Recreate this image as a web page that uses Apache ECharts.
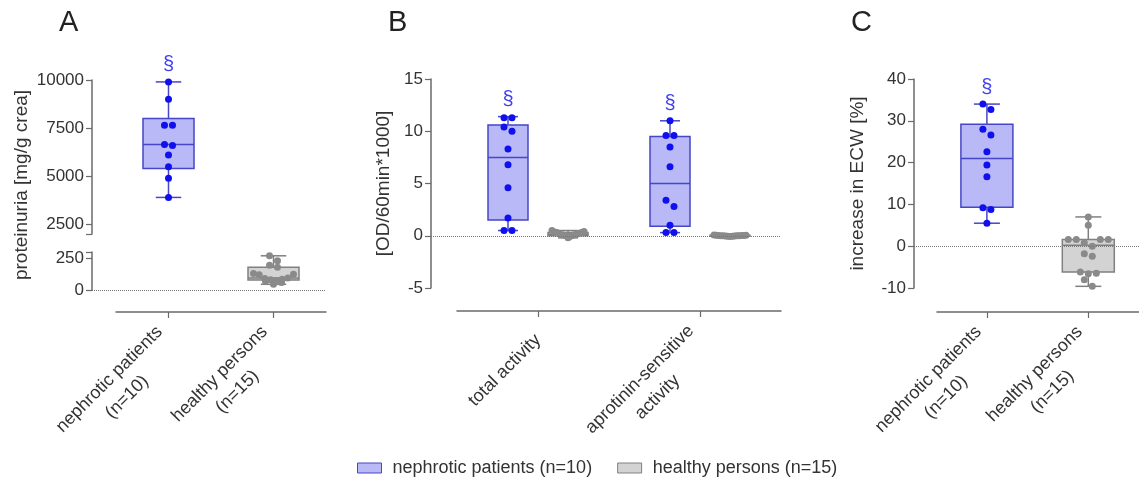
<!DOCTYPE html>
<html>
<head>
<meta charset="utf-8">
<script src="https://cdn.jsdelivr.net/npm/echarts@6/dist/echarts.min.js"></script>
<style>
  html, body { margin: 0; padding: 0; background: #fff; }
  #chart { width: 1139px; height: 486px; }
</style>
</head>
<body>
<div id="chart"></div>
<script>
// ---- data ----
var categoriesAC = ['nephrotic patients\n(n=10)', 'healthy persons\n(n=15)'];
var categoriesB = ['total activity', 'aprotinin-sensitive\nactivity'];
var legendNames = ['nephrotic patients (n=10)', 'healthy persons (n=15)'];
var sigMark = '§';

// box stats: [min, Q1, median, Q3, max]
var boxA_nephrotic = [3900, 5400, 6650, 8000, 9900];
var boxA_healthy = [45, 78, 94, 180, 270];
var ptsA_nephrotic = [9900, 9000, 7650, 7650, 6650, 6600, 6100, 5500, 4900, 3900];
var ptsA_healthy = [270, 230, 195, 180, 130, 125, 120, 95, 90, 85, 80, 75, 70, 60, 45];

var boxB_nephrotic = [[0.5, 1.5, 7.5, 10.6, 11.4], [0.3, 0.9, 5.0, 9.5, 11.0]];
var boxB_healthy = [[-0.2, 0.0, 0.15, 0.3, 0.5], [-0.1, -0.04, 0.0, 0.04, 0.1]];
var ptsB_nephrotic = [
  [11.3, 11.3, 10.4, 10.0, 8.3, 6.8, 4.6, 1.7, 0.5, 0.5],
  [11.0, 9.6, 9.6, 8.5, 6.6, 3.4, 2.8, 1.0, 0.3, 0.3]
];
var ptsB_healthy = [
  [0.5, 0.4, 0.35, 0.3, 0.3, 0.25, 0.2, 0.15, 0.1, 0.1, 0.05, 0, 0, -0.1, -0.2],
  [0.08, 0.05, 0.05, 0.03, 0.02, 0.02, 0, 0, 0, 0, -0.02, -0.03, -0.05, -0.05, -0.08]
];

var boxC_nephrotic = [5.5, 9.3, 21, 29.2, 34];
var boxC_healthy = [-9.6, -6.2, 0.2, 1.6, 7];
var ptsC_nephrotic = [34, 32.7, 28, 26.6, 22.6, 19.4, 16.6, 9.2, 8.8, 5.5];
var ptsC_healthy = [7, 5, 1.6, 1.6, 1.6, 1.6, 0.8, 0, -1.8, -2.4, -6.2, -6.5, -6.6, -8, -9.6];

var ticksA_upper = [2500, 5000, 7500, 10000];
var ticksA_lower = [0, 250];

// ---- styles ----
var FONT = 'Liberation Sans';
var BLUE = { fill: '#b9b9f7', stroke: '#4646c8', dot: '#1010ee', mark: '#4040f0' };
var GREY = { fill: '#d3d3d3', stroke: '#808080', dot: '#8a8a8a' };
var AXIS = '#6a6a6a';
var TEXT = '#333';

var chart = echarts.init(document.getElementById('chart'));

// hidden value x-axis lined up with the visible category axis
function bandRange(plotLeft, axisLeft, axisWidth, n) {
  var unit = axisWidth / n;
  var min = -0.5 - (axisLeft - plotLeft) / unit;
  return { min: min, max: min + (axisLeft + axisWidth - plotLeft) / unit };
}

function boxRenderer(o) {
  return function (params, api) {
    var x = api.value(0);
    var p = [1, 2, 3, 4, 5].map(function (d) { return api.coord([x, api.value(d)]); });
    var cx = p[0][0] + o.dx;
    var hw = o.width / 2, cw = o.width / 4;
    function ln(x1, y1, x2, y2) {
      return { type: 'line', shape: { x1: x1, y1: y1, x2: x2, y2: y2 }, style: { stroke: o.c.stroke, lineWidth: 1.5 } };
    }
    var ch = [
      ln(cx, p[4][1], cx, p[3][1]),
      ln(cx, p[1][1], cx, p[0][1]),
      ln(cx - cw, p[4][1], cx + cw, p[4][1]),
      ln(cx - cw, p[0][1], cx + cw, p[0][1]),
      { type: 'rect', shape: { x: cx - hw, y: p[3][1], width: o.width, height: p[1][1] - p[3][1] },
        style: { fill: o.c.fill, stroke: o.c.stroke, lineWidth: 1.5 } },
      ln(cx - hw, p[2][1], cx + hw, p[2][1])
    ];
    if (o.mark) {
      ch.push({ type: 'text', x: cx, y: p[4][1] - 17,
        style: { text: o.mark, fill: o.c.mark, font: '20px ' + FONT, align: 'center', verticalAlign: 'middle' } });
    }
    return { type: 'group', children: ch };
  };
}

function boxSeries(id, name, xi, yi, stats, o) {
  return {
    id: id, name: name, type: 'custom', xAxisIndex: xi, yAxisIndex: yi,
    renderItem: boxRenderer(o), encode: { x: 0, y: [1, 2, 3, 4, 5] },
    itemStyle: { color: o.c.fill, borderColor: o.c.stroke },
    data: stats.map(function (s, i) { return [o.cat != null ? o.cat : i].concat(s); }),
    z: 2
  };
}

var zeroLine = {
  silent: true, symbol: ['none', 'none'], label: { show: false },
  lineStyle: { type: 'dotted', color: '#777', width: 1 },
  data: [{ yAxis: 0 }]
};

function dotSeries(id, name, xi, yi, groups, c, withZero) {
  var items = [];
  groups.forEach(function (g) {
    g.vals.forEach(function (v) { items.push([g.i, v]); });
  });
  var s = {
    id: id, name: name, type: 'scatter', xAxisIndex: xi, yAxisIndex: yi,
    symbolSize: 7, itemStyle: { color: c.dot, opacity: 1 }, data: items, z: 3
  };
  if (withZero) s.markLine = zeroLine;
  return s;
}

function valueX(grid, r) {
  return { type: 'value', gridIndex: grid, min: r.min, max: r.max, show: false };
}
function hiddenY(grid) {
  return { type: 'value', gridIndex: grid, show: false };
}
function catX(grid, data) {
  return {
    type: 'category', gridIndex: grid, data: data, position: 'bottom',
    axisLine: { show: true, onZero: false, lineStyle: { color: AXIS, width: 1.5 } },
    axisTick: { show: true, interval: 0, alignWithLabel: true, length: 6, lineStyle: { color: AXIS, width: 1.2 } },
    splitLine: { show: false },
    axisLabel: {
      interval: 0, rotate: 45, margin: 26, color: TEXT, fontFamily: FONT, fontSize: 18, lineHeight: 25,
      formatter: function (v) {
        return v.split('\n').map(function (s) { return '{c|' + s + '}'; }).join('\n');
      },
      rich: { c: { align: 'center', fontFamily: FONT, fontSize: 18, lineHeight: 25, color: TEXT } }
    }
  };
}
function visY(grid, cfg) {
  var a = {
    type: 'value', gridIndex: grid, position: 'left', min: cfg.min, max: cfg.max,
    axisLine: { show: true, onZero: false, lineStyle: { color: AXIS, width: 1.5 } },
    axisTick: { show: true, length: 6, lineStyle: { color: AXIS, width: 1.2 } },
    splitLine: { show: false },
    axisLabel: { color: TEXT, fontFamily: FONT, fontSize: 17, margin: 8,
      formatter: function (v) { return String(v); } }
  };
  if (cfg.interval) a.interval = cfg.interval;
  if (cfg.labels) { a.axisLabel.customValues = cfg.labels; a.axisTick.customValues = cfg.ticks; }
  if (cfg.name) {
    a.name = cfg.name; a.nameLocation = 'middle'; a.nameGap = cfg.nameGap;
    a.nameTextStyle = { color: TEXT, fontFamily: FONT, fontSize: 19 };
  }
  return a;
}

// layout
var rA = bandRange(92, 116, 210, 2);
var rB = bandRange(431, 457, 324, 2);
var rC = bandRange(914, 937, 210, 2);

var option = {
  animation: false,
  backgroundColor: '#fff',
  textStyle: { fontFamily: FONT },
  title: [
    { text: 'A', left: 59, top: 8, padding: 0, textStyle: { fontSize: 29, fontWeight: 'normal', color: '#222', fontFamily: FONT } },
    { text: 'B', left: 388, top: 8, padding: 0, textStyle: { fontSize: 29, fontWeight: 'normal', color: '#222', fontFamily: FONT } },
    { text: 'C', left: 851, top: 8, padding: 0, textStyle: { fontSize: 29, fontWeight: 'normal', color: '#222', fontFamily: FONT } }
  ],
  graphic: [{
    type: 'text', x: 22, y: 185, rotation: Math.PI / 2,
    style: { text: 'proteinuria [mg/g crea]', fill: TEXT, font: '19px ' + FONT, align: 'center', verticalAlign: 'middle' }
  }],
  legend: {
    data: [
      { name: legendNames[0], icon: 'rect', itemStyle: { color: BLUE.fill, borderColor: BLUE.stroke, borderWidth: 1 } },
      { name: legendNames[1], icon: 'rect', itemStyle: { color: GREY.fill, borderColor: GREY.stroke, borderWidth: 1 } }
    ],
    left: 357, top: 458, padding: 0, itemWidth: 24, itemHeight: 10, itemGap: 25,
    selectedMode: false,
    textStyle: { color: TEXT, fontFamily: FONT, fontSize: 18, lineHeight: 20, padding: [0, 0, 0, 6] }
  },
  grid: [
    { left: 92, top: 80, width: 234, height: 154 },
    { left: 92, top: 252, width: 234, height: 38 },
    { left: 116, top: 300, width: 210, height: 12 },
    { left: 431, top: 79, width: 350, height: 209 },
    { left: 457, top: 299, width: 324, height: 12 },
    { left: 914, top: 79, width: 233, height: 209 },
    { left: 937, top: 300, width: 210, height: 12 }
  ],
  xAxis: [
    valueX(0, rA), valueX(1, rA), catX(2, categoriesAC),
    valueX(3, rB), catX(4, categoriesB),
    valueX(5, rC), catX(6, categoriesAC)
  ],
  yAxis: [
    visY(0, { min: 2000, max: 10000, labels: ticksA_upper, ticks: [2000].concat(ticksA_upper) }),
    visY(1, { min: 0, max: 300, labels: ticksA_lower, ticks: ticksA_lower.concat([300]) }),
    hiddenY(2),
    visY(3, { min: -5, max: 15, interval: 5, name: '[OD/60min*1000]', nameGap: 38 }),
    hiddenY(4),
    visY(5, { min: -10, max: 40, interval: 10, name: 'increase in ECW [%]', nameGap: 47 }),
    hiddenY(6)
  ],
  series: [
    boxSeries('bxAn', legendNames[0], 0, 0, [boxA_nephrotic], { dx: 0, width: 51, c: BLUE, mark: sigMark, cat: 0 }),
    boxSeries('bxAh', legendNames[1], 1, 1, [boxA_healthy], { dx: 0, width: 51, c: GREY, cat: 1 }),
    boxSeries('bxBn', legendNames[0], 3, 3, boxB_nephrotic, { dx: -30, width: 40, c: BLUE, mark: sigMark }),
    boxSeries('bxBh', legendNames[1], 3, 3, boxB_healthy, { dx: 30, width: 40, c: GREY }),
    boxSeries('bxCn', legendNames[0], 5, 5, [boxC_nephrotic], { dx: 0, width: 52, c: BLUE, mark: sigMark, cat: 0 }),
    boxSeries('bxCh', legendNames[1], 5, 5, [boxC_healthy], { dx: 0, width: 52, c: GREY, cat: 1 }),
    dotSeries('ptAn', legendNames[0], 0, 0, [{ i: 0, vals: ptsA_nephrotic }], BLUE, false),
    dotSeries('ptAh', legendNames[1], 1, 1, [{ i: 1, vals: ptsA_healthy }], GREY, true),
    dotSeries('ptBn', legendNames[0], 3, 3, [{ i: 0, vals: ptsB_nephrotic[0] }, { i: 1, vals: ptsB_nephrotic[1] }], BLUE, false),
    dotSeries('ptBh', legendNames[1], 3, 3, [{ i: 0, vals: ptsB_healthy[0] }, { i: 1, vals: ptsB_healthy[1] }], GREY, true),
    dotSeries('ptCn', legendNames[0], 5, 5, [{ i: 0, vals: ptsC_nephrotic }], BLUE, false),
    dotSeries('ptCh', legendNames[1], 5, 5, [{ i: 1, vals: ptsC_healthy }], GREY, true)
  ]
};

chart.setOption(option);

// spread points sharing (nearly) the same height side by side, as in the original plot
function swarm(ys, step, rowH, maxHalf) {
  var order = ys.map(function (y, i) { return i; }).sort(function (a, b) { return ys[a] - ys[b]; });
  var dx = ys.map(function () { return 0; });
  var row = [], start = null;
  function flush() {
    var m = row.length;
    if (!m) return;
    var s = m > 1 ? Math.min(step, 2 * maxHalf / (m - 1)) : 0;
    var pos = row.map(function (_, j) { return (j - (m - 1) / 2) * s; })
      .sort(function (a, b) { return Math.abs(b) - Math.abs(a); });
    row.forEach(function (i, j) { dx[i] = pos[j]; });
    row = [];
  }
  order.forEach(function (i) {
    if (start === null || ys[i] - start >= rowH) { flush(); start = ys[i]; }
    row.push(i);
  });
  flush();
  return dx;
}

var dotCfg = [
  { id: 'ptAn', dx: 0, half: 20 }, { id: 'ptAh', dx: 0, half: 20 },
  { id: 'ptBn', dx: -30, half: 16 }, { id: 'ptBh', dx: 30, half: 16 },
  { id: 'ptCn', dx: 0, half: 20 }, { id: 'ptCh', dx: 0, half: 20 }
];
var update = dotCfg.map(function (cfg) {
  var s = option.series.filter(function (x) { return x.id === cfg.id; })[0];
  var out = s.data.map(function (d) { return { value: d, symbolOffset: [cfg.dx, 0] }; });
  [0, 1].forEach(function (cat) {
    var idx = [];
    s.data.forEach(function (d, k) { if (d[0] === cat) idx.push(k); });
    if (!idx.length) return;
    var ys = idx.map(function (k) { return chart.convertToPixel({ seriesId: cfg.id }, s.data[k])[1]; });
    var off = swarm(ys, 8, 7, cfg.half);
    idx.forEach(function (k, j) { out[k].symbolOffset = [cfg.dx + off[j], 0]; });
  });
  return { id: cfg.id, data: out };
});
chart.setOption({ series: update });
</script>
</body>
</html>
